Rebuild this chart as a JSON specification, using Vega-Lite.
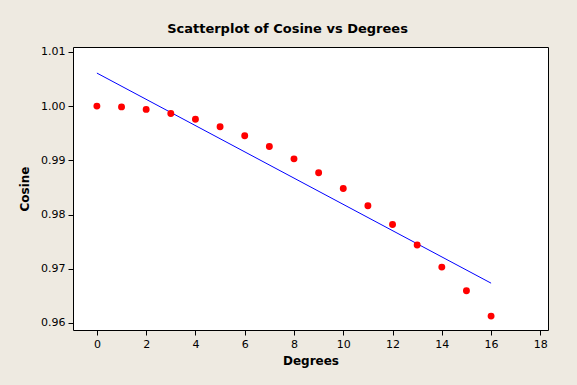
{
  "$schema": "https://vega.github.io/schema/vega-lite/v6.json",
  "width": 475,
  "height": 283,
  "autosize": "none",
  "padding": {"left": 73, "top": 47, "right": 29, "bottom": 55},
  "background": "#EEEAE1",
  "title": {
    "text": "Scatterplot of Cosine vs Degrees",
    "font": "DejaVu Sans",
    "fontSize": 13,
    "fontWeight": "bold",
    "color": "#000000",
    "dx": -23,
    "offset": 10
  },
  "config": {
    "view": {"stroke": "#000000", "strokeWidth": 1, "fill": "#FFFFFF"},
    "axis": {
      "grid": false,
      "domain": false,
      "tickColor": "#000000",
      "tickSize": 5,
      "labelFont": "DejaVu Sans",
      "labelFontSize": 11,
      "labelColor": "#000000",
      "titleFont": "DejaVu Sans",
      "titleFontSize": 12,
      "titleFontWeight": "bold",
      "titleColor": "#000000"
    }
  },
  "datasets": {
    "points": [
      {"Degrees": 0, "Cosine": 1.00000},
      {"Degrees": 1, "Cosine": 0.99985},
      {"Degrees": 2, "Cosine": 0.99939},
      {"Degrees": 3, "Cosine": 0.99863},
      {"Degrees": 4, "Cosine": 0.99756},
      {"Degrees": 5, "Cosine": 0.99619},
      {"Degrees": 6, "Cosine": 0.99452},
      {"Degrees": 7, "Cosine": 0.99255},
      {"Degrees": 8, "Cosine": 0.99027},
      {"Degrees": 9, "Cosine": 0.98769},
      {"Degrees": 10, "Cosine": 0.98481},
      {"Degrees": 11, "Cosine": 0.98163},
      {"Degrees": 12, "Cosine": 0.97815},
      {"Degrees": 13, "Cosine": 0.97437},
      {"Degrees": 14, "Cosine": 0.97030},
      {"Degrees": 15, "Cosine": 0.96593},
      {"Degrees": 16, "Cosine": 0.96126}
    ],
    "fit": [
      {"Degrees": 0, "Cosine": 1.00609},
      {"Degrees": 16, "Cosine": 0.96734}
    ]
  },
  "layer": [
    {
      "data": {"name": "fit"},
      "mark": {"type": "line", "color": "#0000FF", "strokeWidth": 1, "clip": true},
      "encoding": {
        "x": {"field": "Degrees", "type": "quantitative",
              "scale": {"domain": [-0.97, 18.31], "nice": false, "zero": false},
              "axis": {"values": [0, 2, 4, 6, 8, 10, 12, 14, 16, 18], "labelPadding": 3, "titlePadding": 6}},
        "y": {"field": "Cosine", "type": "quantitative",
              "scale": {"domain": [0.9587, 1.0109], "nice": false, "zero": false},
              "axis": {"values": [0.96, 0.97, 0.98, 0.99, 1.0, 1.01], "format": ".2f", "labelPadding": 3, "titlePadding": 9}}
      }
    },
    {
      "data": {"name": "points"},
      "mark": {"type": "point", "filled": true, "shape": "circle", "color": "#FF0000", "opacity": 1, "size": 48},
      "encoding": {
        "x": {"field": "Degrees", "type": "quantitative"},
        "y": {"field": "Cosine", "type": "quantitative"}
      }
    }
  ]
}
